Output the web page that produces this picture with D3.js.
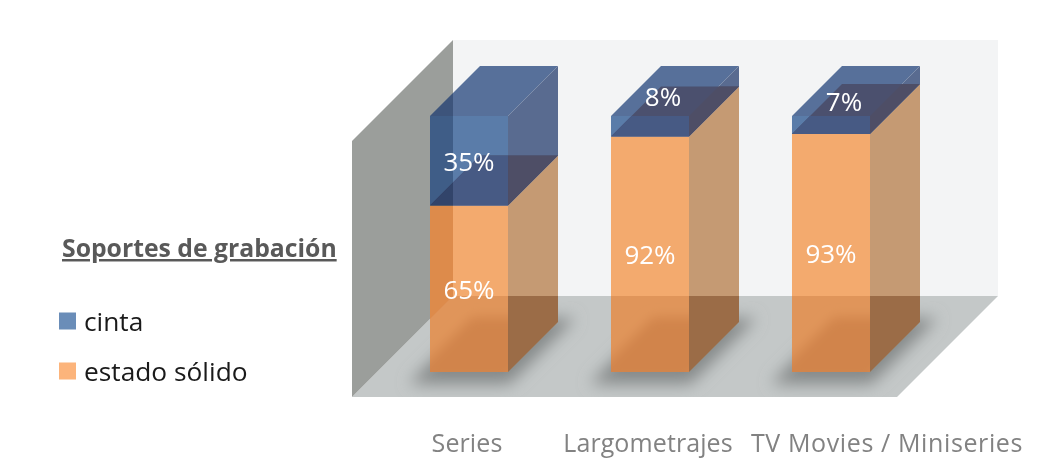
<!DOCTYPE html>
<html>
<head>
<meta charset="utf-8">
<script src="https://cdn.jsdelivr.net/npm/d3@7"></script>
<style>
  html, body { margin: 0; padding: 0; background: #fff; }
  text { font-family: "Open Sans", "Noto Sans", sans-serif; }
</style>
</head>
<body>
<svg id="chart" width="1046" height="470"></svg>
<script>
const categories = ['Series', 'Largometrajes', 'TV Movies / Miniseries'];
const estadoSolido = [65, 92, 93];
const cinta = [35, 8, 7];
const legendLabels = ['cinta', 'estado sólido'];
const legendTitle = 'Soportes de grabación';

const width = 1046, height = 470;
const depth = 50;           // shift of the back of each box
const wall = { x: 453, top: 40, bottom: 296, right: 998 };
const floorFront = 397;

const svg = d3.select('#chart');
const defs = svg.append('defs');

// Scales
const x = d3.scaleBand().domain(categories).range([430, 870]).paddingInner(0.569).paddingOuter(0);
const y = d3.scaleLinear().domain([0, 100]).range([372, 116]);

const pts = p => p.map(d => d.join(',')).join(' ');

// Faces of a box going from value v0 to v1
const front = (c, v0, v1) => { const a = x(c), b = a + x.bandwidth(); return [[a, y(v0)], [b, y(v0)], [b, y(v1)], [a, y(v1)]]; };
const side = (c, v0, v1) => { const b = x(c) + x.bandwidth(); return [[b, y(v0)], [b + depth, y(v0) - depth], [b + depth, y(v1) - depth], [b, y(v1)]]; };
const top_ = (c, v) => { const a = x(c), b = a + x.bandwidth(); return [[a, y(v)], [b, y(v)], [b + depth, y(v) - depth], [a + depth, y(v) - depth]]; };

const wallPoly = [[wall.x, wall.top], [wall.x - 101, wall.top + 101], [wall.x - 101, floorFront], [wall.x, wall.bottom]];
const floorPoly = [[wall.x, wall.bottom], [wall.right, wall.bottom], [wall.right - 101, floorFront], [wall.x - 101, floorFront]];

function addClip(id, poly) {
  defs.append('clipPath').attr('id', id).append('polygon').attr('points', pts(poly));
  return `url(#${id})`;
}
const wallClip = addClip('wall-clip', wallPoly);
const floorClip = addClip('floor-clip', floorPoly);

function addBlur(id, amount) {
  defs.append('filter').attr('id', id).attr('x', '-50%').attr('y', '-50%').attr('width', '200%').attr('height', '200%')
    .append('feGaussianBlur').attr('stdDeviation', amount);
  return `url(#${id})`;
}
const floorBlur = addBlur('blur', 8);
const barBlur = addBlur('bar-blur', 6);

// Back wall, floor and side wall
svg.append('rect').attr('x', wall.x).attr('y', wall.top).attr('width', wall.right - wall.x).attr('height', wall.bottom - wall.top).attr('fill', '#f3f4f5');
svg.append('polygon').attr('points', pts(floorPoly)).attr('fill', '#c4c8c8');
svg.append('polygon').attr('points', pts(wallPoly)).attr('fill', '#9b9e9b');

// Soft shadow on the floor
const footprint = c => top_(c, 0);
const floorShadow = svg.append('g').attr('clip-path', floorClip);
categories.forEach(c => {
  floorShadow.append('polygon').attr('points', pts(footprint(c)))
    .attr('transform', 'translate(-2,4)')
    .attr('fill', '#858989').attr('stroke', '#858989').attr('stroke-width', 16).attr('filter', floorBlur);
});

const bars = svg.append('g');
const face = (poly, fill, clip) => {
  const f = bars.append('polygon').attr('points', pts(poly)).attr('fill', fill);
  if (clip) f.attr('clip-path', clip);
  return f;
};

categories.forEach((c, i) => {
  const s = estadoSolido[i], t = s + cinta[i];
  const key = 'b' + i;

  // orange box
  face(side(c, 0, s), '#c59a73');
  face(front(c, 0, s), '#f3aa6e');

  // blue box
  face(top_(c, t), '#57709a');
  face(side(c, s, t), '#596b90');
  face(front(c, s, t), '#5a7ca9');

  // top of the orange box seen through the blue one
  const frontClip = addClip(key + '-front', front(c, s, t));
  const sideClip = addClip(key + '-side', side(c, s, t));
  face(top_(c, s), '#4b506e');
  face(top_(c, s), '#475a84', frontClip);
  face(top_(c, s), '#4e4e66', sideClip);

  // side wall seen over the first box
  const overWall = bars.append('g').attr('clip-path', wallClip).style('mix-blend-mode', 'multiply');
  overWall.append('polygon').attr('points', pts(front(c, s, t))).attr('fill', '#b3bfcc');
  overWall.append('polygon').attr('points', pts(top_(c, t))).attr('fill', '#b3bfcc');
  overWall.append('polygon').attr('points', pts(front(c, 0, s))).attr('fill', '#e8d1ad');

  // floor seen through the orange box
  const overFloor = bars.append('g').attr('clip-path', floorClip).style('mix-blend-mode', 'multiply');
  overFloor.append('polygon').attr('points', pts(side(c, 0, s))).attr('fill', '#c9b39e');
  overFloor.append('polygon').attr('points', pts(front(c, 0, s))).attr('fill', '#ebe0d1');
  const shadowClip = addClip(key + '-shadow', front(c, 0, s));
  overFloor.append('g').attr('clip-path', shadowClip)
    .append('polygon').attr('points', pts(footprint(c)))
    .attr('transform', 'translate(-5,2)')
    .attr('fill', '#dcc6ad').attr('stroke', '#dcc6ad').attr('stroke-width', 14).attr('filter', barBlur);
});

// Value labels
const smallShift = { 'Largometrajes': [13, -30], 'TV Movies / Miniseries': [13, -24] };
const labelStyle = sel => sel.attr('fill', '#fff').attr('font-size', 26).attr('text-anchor', 'middle').attr('dominant-baseline', 'central');
categories.forEach((c, i) => {
  const cx = x(c) + x.bandwidth() / 2;
  const s = estadoSolido[i], t = s + cinta[i];
  const shift = smallShift[c] || [0, 0];
  svg.append('text').attr('x', cx).attr('y', y(s / 2)).text(s + '%').call(labelStyle);
  svg.append('text').attr('x', cx + shift[0]).attr('y', y((s + t) / 2) + shift[1]).text(cinta[i] + '%').call(labelStyle);
});

// Category axis
const axis = svg.append('g').attr('transform', 'translate(0,430)').call(d3.axisBottom(x).tickSize(0));
axis.select('.domain').remove();
axis.selectAll('text')
  .attr('fill', '#828282').attr('font-size', 25).attr('dy', 0).attr('y', 12)
  .attr('dominant-baseline', 'central')
  .attr('dx', d => d === categories[2] ? 56 : -2)
  .attr('letter-spacing', d => d === categories[2] ? 0.62 : 0.1);

// Legend
svg.append('text').attr('x', 62).attr('y', 257).text(legendTitle)
  .attr('font-size', 24.75).attr('font-weight', 700).attr('fill', '#595959').attr('text-decoration', 'underline');
const legendColors = d3.scaleOrdinal().domain(legendLabels).range(['#6a8db8', '#fcb47b']);
const legendY = d3.scalePoint().domain(legendLabels).range([321, 371]);
const legend = svg.append('g').selectAll('g').data(legendLabels).join('g')
  .attr('transform', d => `translate(59,${legendY(d)})`);
legend.append('rect').attr('y', -8.5).attr('width', 17).attr('height', 17).attr('fill', d => legendColors(d));
legend.append('text').attr('x', 25).attr('dominant-baseline', 'central').attr('font-size', 26.3).attr('fill', '#1a1a1a').text(d => d);
</script>
</body>
</html>
